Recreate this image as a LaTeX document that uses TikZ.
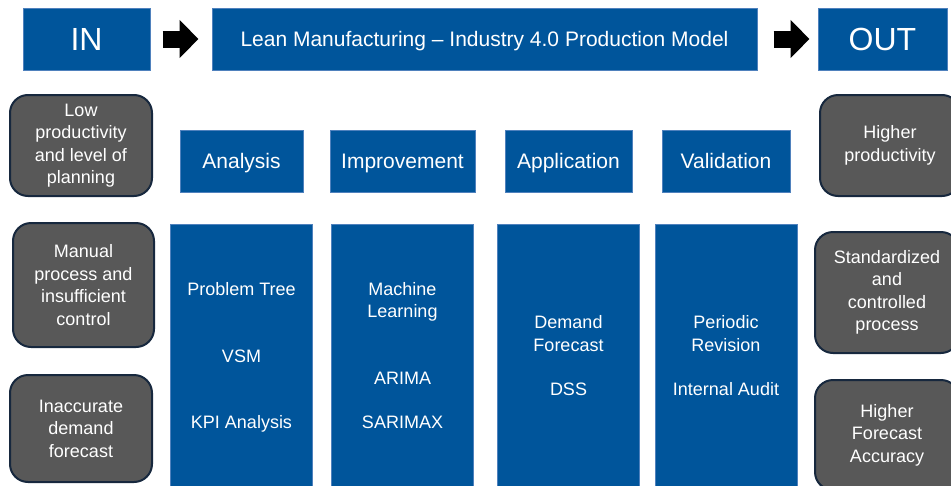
\documentclass[tikz,border=0pt]{standalone}
\usepackage{fontspec}
\setmainfont{Liberation Sans}
\usetikzlibrary{arrows.meta,positioning}

\definecolor{leanblue}{RGB}{0,85,155}
\definecolor{leanedge}{RGB}{79,129,189}
\definecolor{boxgray}{RGB}{88,88,88}
\definecolor{boxedge}{RGB}{23,40,62}

\tikzset{
  bluebox/.style={draw=leanedge, line width=1pt, fill=leanblue, text=white,
    inner sep=0pt, align=center},
  header/.style={bluebox, minimum height=62pt, text depth=0pt,
    font=\fontsize{21}{25}\selectfont},
  column/.style={bluebox, minimum width=142pt, minimum height=263pt, text depth=0pt,
    font=\fontsize{18}{22.5}\selectfont},
  graybox/.style={draw=boxedge, line width=2pt, fill=boxgray, rounded corners=18pt,
    text=white, inner sep=0pt, align=center, font=\fontsize{18}{22.5}\selectfont},
  blockarrow/.style={line width=17pt, -{Triangle[length=19pt,width=37pt]}},
}

\begin{document}
\begin{tikzpicture}[x=1pt, y=-1pt]
  \useasboundingbox (0,0) rectangle (951,485);

  % top row
  \node [bluebox, minimum width=127pt, minimum height=62pt, font=\fontsize{32}{36}\selectfont] (in) at (86.5,39) {IN};
  \node [header, minimum width=545pt] (model) at (484.5,39) {Lean Manufacturing -- Industry 4.0 Production Model};
  \node [bluebox, minimum width=129pt, minimum height=62pt, font=\fontsize{32}{36}\selectfont] (out) at (882.5,39) {OUT};
  \draw [blockarrow, shorten <=12pt, shorten >=13pt] (in) -- (model);
  \draw [blockarrow, shorten <=16pt, shorten >=8pt] (model) -- (out);

  % stages
  \node [header, minimum width=123pt] (analysis) at (241.5,161) {Analysis};
  \node [header, minimum width=145pt] (improvement) at (402.5,161) {Improvement};
  \node [header, minimum width=127pt] (application) at (568.5,161) {Application};
  \node [header, minimum width=128pt] (validation) at (726,161) {Validation};

  \node [column, below=31pt of analysis] (colanalysis) {Problem Tree\\[44pt]VSM\\[44pt]KPI Analysis};
  \node [column, below=31pt of improvement] (colimprovement) {Machine\\Learning\\[44.5pt]ARIMA\\[21.5pt]SARIMAX};
  \node [column, below=31pt of application] (colapplication) {Demand\\Forecast\\[21.5pt]DSS};
  \node [column, below=31pt of validation] (colvalidation) {Periodic\\Revision\\[21.5pt]Internal Audit};

  % inputs
  \node [graybox, minimum width=142pt, minimum height=101pt] (low) at (81,145.5) {Low\\productivity\\and level of\\planning};
  \node [graybox, minimum width=141pt, minimum height=124pt] (manual) at (83.5,285) {Manual\\process and\\insufficient\\control};
  \node [graybox, minimum width=142pt, minimum height=107pt] (inaccurate) at (81,428.5) {Inaccurate\\demand\\forecast};

  % outputs
  \node [graybox, minimum width=140pt, minimum height=101pt] (higher) at (890,145.5) {Higher\\productivity};
  \node [graybox, minimum width=144pt, minimum height=121pt] (standard) at (887,292.5) {Standardized\\and\\controlled\\process};
  \node [graybox, minimum width=144pt, minimum height=110pt] (accuracy) at (887,435) {Higher\\Forecast\\Accuracy};
\end{tikzpicture}
\end{document}
